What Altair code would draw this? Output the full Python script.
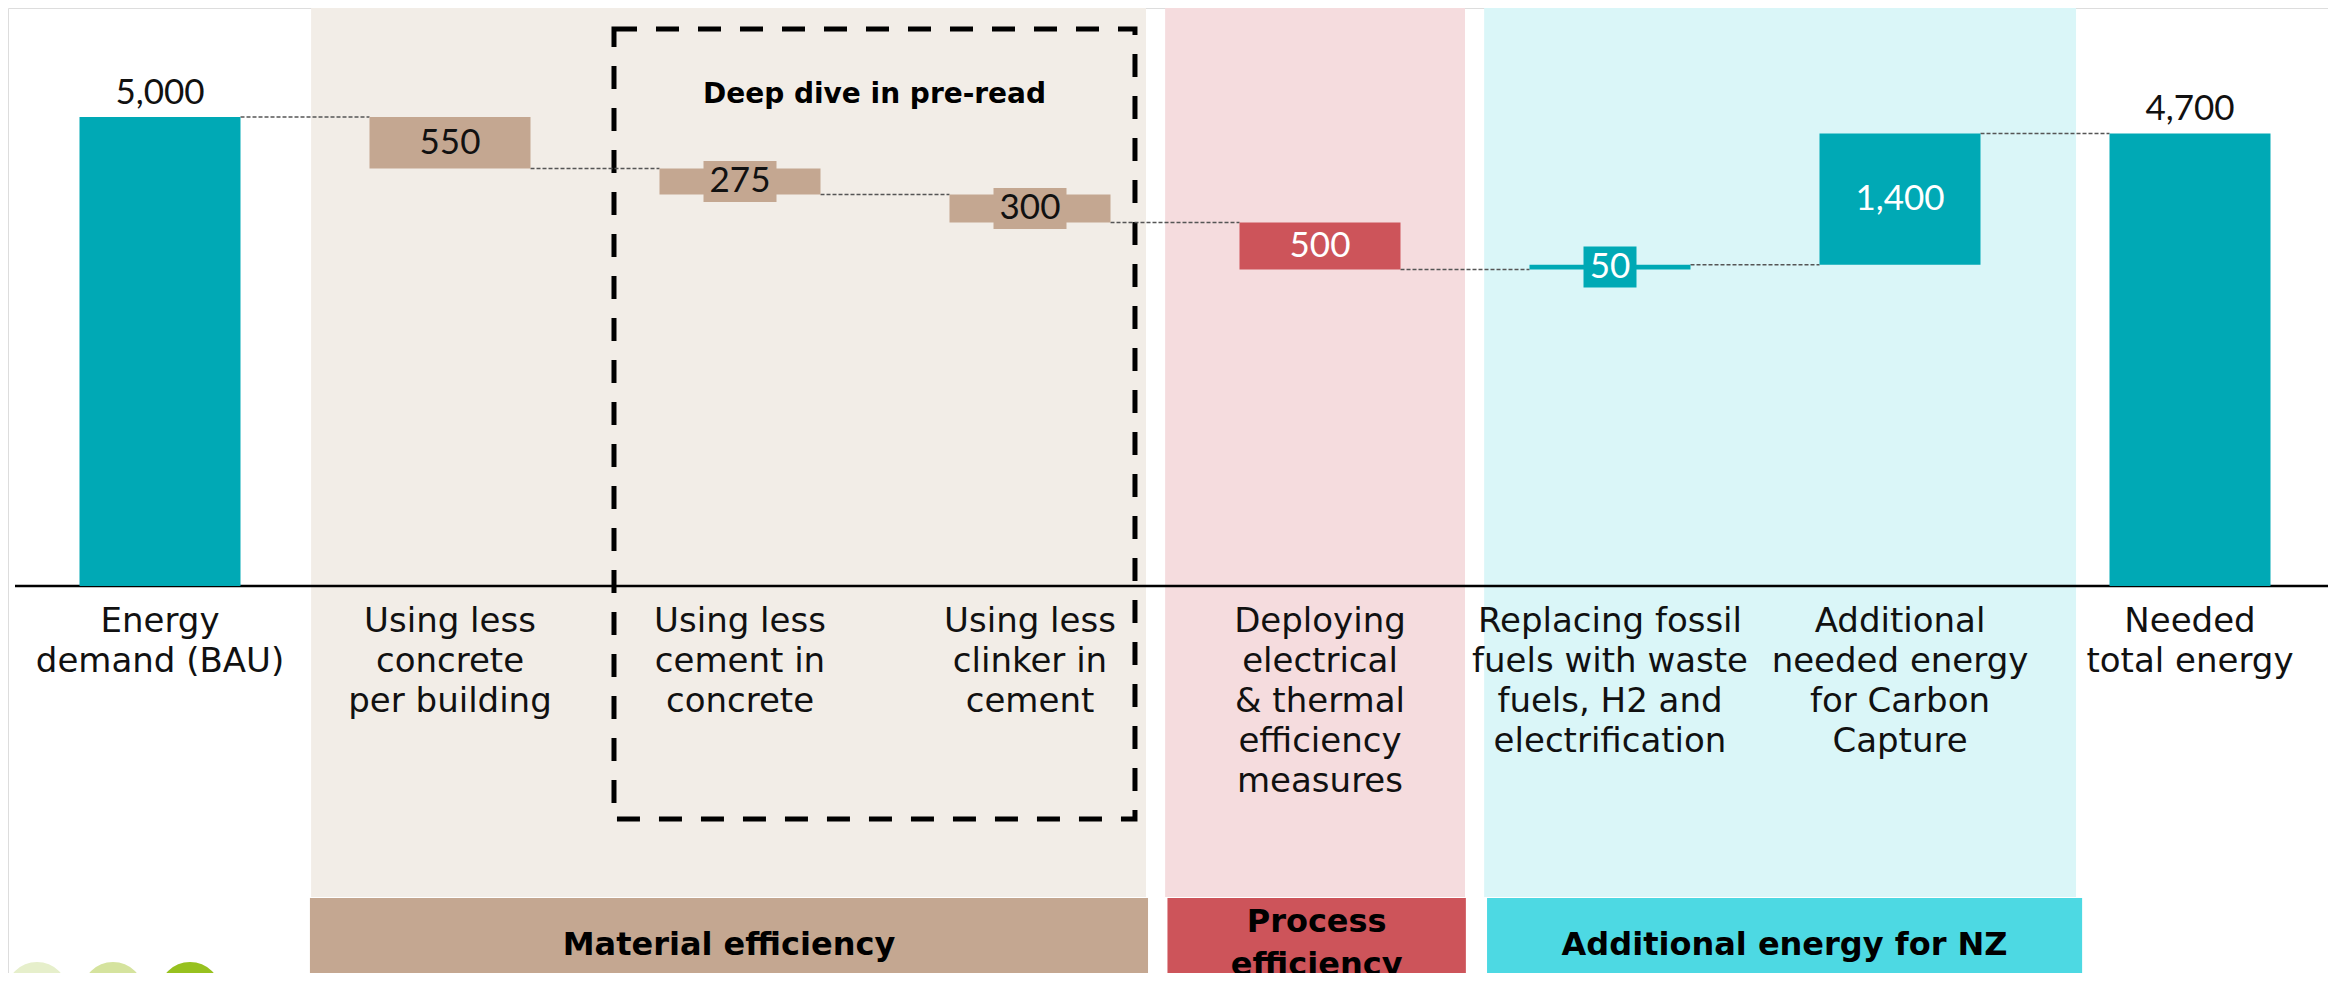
import altair as alt
import pandas as pd

# ---------------- data ----------------
categories = [
    "Energy\ndemand (BAU)",
    "Using less\nconcrete\nper building",
    "Using less\ncement in\nconcrete",
    "Using less\nclinker in\ncement",
    "Deploying\nelectrical\n& thermal\nefficiency\nmeasures",
    "Replacing fossil\nfuels with waste\nfuels, H2 and\nelectrification",
    "Additional\nneeded energy\nfor Carbon\nCapture",
    "Needed\ntotal energy",
]
# start value followed by the steps as drawn
step_values = [5000, -550, -275, -300, -500, 50, 1400]
value_labels = ["5,000", "550", "275", "300", "500", "50", "1,400", "4,700"]
kinds = ["total", "material", "material", "material", "process", "nz", "nz", "total"]

groups = ["Material efficiency", "Process\nefficiency", "Additional energy for NZ"]
group_kinds = ["material", "process", "nz"]

FONT = "DejaVu Sans"
NUM_FONT = "Lato"
bar_color = {"total": "#00A9B5", "material": "#C4A791", "process": "#CD545A", "nz": "#00A9B5"}
label_color = {"total": "#111111", "material": "#111111", "process": "#FFFFFF", "nz": "#FFFFFF"}
panel_color = {"material": "#F2EDE7", "process": "#F5DCDE", "nz": "#DAF6F8"}
band_color = {"material": "#C4A791", "process": "#CD545A", "nz": "#4DD9E3"}

STEP_PX = 290.0
PX_PER_UNIT = 469 / 5000
HALF = 0.2776

# ---------------- build tables ----------------
rows = []
level = 0
for i, cat in enumerate(categories):
    k = kinds[i]
    if i == 0:
        start, end = 0, step_values[0]
    elif i == len(categories) - 1:
        start, end = 0, level
    else:
        start, end = level, level + step_values[i]
    level = end
    rows.append(dict(i=i, cat=cat, start=start, end=end, kind=k,
                     x=i + 0.5 - HALF, x2=i + 0.5 + HALF, xc=i + 0.5,
                     color=bar_color[k], label=value_labels[i], lcolor=label_color[k],
                     mid=(start + end) / 2))
bars = pd.DataFrame(rows)

conn = pd.DataFrame([
    dict(x=bars.x2[j], x2=bars.x[j + 1], y=bars.end[j])
    for j in range(len(bars) - 1)
])

inner = bars[bars.kind != "total"].copy()
small = inner[(inner.end - inner.start).abs() * PX_PER_UNIT < 45].copy()
small["w"] = (small.label.str.len() * 20 + 13) / STEP_PX
small["bx"] = small.xc - small.w / 2
small["bx2"] = small.xc + small.w / 2
small["by"] = small.mid - 20.5 / PX_PER_UNIT
small["by2"] = small.mid + 20.5 / PX_PER_UNIT
totals = bars[bars.kind == "total"].copy()

spans = {"material": (1.021, 3.90), "process": (3.966, 5.0), "nz": (5.066, 7.107)}
band_spans = {"material": (1.017, 3.907), "process": (3.974, 5.003), "nz": (5.076, 7.128)}
panels = pd.DataFrame([dict(g=g, k=k, x=spans[k][0], x2=spans[k][1], c=panel_color[k])
                       for g, k in zip(groups, group_kinds)])
bands = pd.DataFrame([dict(g=g, k=k, x=band_spans[k][0], x2=band_spans[k][1], c=band_color[k],
                           xc=(band_spans[k][0] + band_spans[k][1]) / 2)
                      for g, k in zip(groups, group_kinds)])

box = pd.DataFrame([dict(x=2.0655, x2=3.862, xc=(2.0655 + 3.862) / 2, t="Deep dive in pre-read")])
axis_df = pd.DataFrame([dict(x=0.0, x2=8.0, y=0)])
logo = pd.DataFrame(dict(px=[29, 105, 182], c=["#E6EFCB", "#D5E39E", "#97C11F"]))

xs = alt.Scale(domain=[-7 / STEP_PX, 8 - 7 / STEP_PX])
ys = alt.Scale(domain=[-4126, 6162])
X = lambda f: alt.X(f, type="quantitative", scale=xs, axis=None)
Y = lambda f: alt.Y(f, type="quantitative", scale=ys, axis=None)

# ---------------- layers ----------------
panel_l = alt.Chart(panels).mark_rect().encode(
    x=X("x"), x2="x2", y=alt.value(0), y2=alt.value(889),
    color=alt.Color("c:N", scale=None))

band_l = alt.Chart(bands).mark_rect().encode(
    x=X("x"), x2="x2", y=alt.value(890), y2=alt.value(975),
    color=alt.Color("c:N", scale=None))

band_text_one = alt.Chart(bands[bands.k != "process"]).mark_text(
    font=FONT, fontSize=32, fontWeight="bold", color="#000000",
    baseline="alphabetic", align="center").encode(
    x=X("xc"), y=alt.value(947), text="g:N")

band_text_two = alt.Chart(bands[bands.k == "process"]).mark_text(
    font=FONT, fontSize=32, fontWeight="bold", color="#000000",
    lineBreak="\n", lineHeight=43, baseline="alphabetic", align="center").encode(
    x=X("xc"), y=alt.value(924), text="g:N")

box_l = alt.Chart(box).mark_rect(
    fill=None, stroke="#000000", strokeWidth=5, strokeDash=[23, 19]).encode(
    x=X("x"), x2="x2", y=alt.value(21), y2=alt.value(811))

box_text = alt.Chart(box).mark_text(
    font=FONT, fontSize=28, fontWeight="bold", color="#000000", baseline="alphabetic").encode(
    x=X("xc"), y=alt.value(95), text="t:N")

axis_l = alt.Chart(axis_df).mark_rule(color="#000000", strokeWidth=2.5).encode(
    x=X("x"), x2="x2", y=Y("y"))

conn_l = alt.Chart(conn).mark_rule(color="#555555", strokeWidth=1.5, strokeDash=[4, 2]).encode(
    x=X("x"), x2="x2", y=Y("y"))

bar_l = alt.Chart(bars).mark_rect().encode(
    x=X("x"), x2="x2", y=Y("start"), y2="end",
    color=alt.Color("color:N", scale=None))

sbox_l = alt.Chart(small).mark_rect().encode(
    x=X("bx"), x2="bx2", y=Y("by"), y2="by2",
    color=alt.Color("color:N", scale=None))

inner_text = alt.Chart(inner).mark_text(
    font=NUM_FONT, fontSize=35, baseline="middle", align="center").encode(
    x=X("xc"), y=Y("mid"), text="label:N",
    color=alt.Color("lcolor:N", scale=None))

total_text = alt.Chart(totals).mark_text(
    font=NUM_FONT, fontSize=35, baseline="alphabetic", align="center", dy=-13, color="#111111").encode(
    x=X("xc"), y=Y("end"), text="label:N")

cat_text = alt.Chart(bars).mark_text(
    font=FONT, fontSize=34, lineBreak="\n", lineHeight=40, baseline="alphabetic",
    align="center", color="#111111").encode(
    x=X("xc"), y=alt.value(624), text="cat:N")

logo_l = alt.Chart(logo).mark_circle(size=3850, opacity=1).encode(
    x=alt.X("px:Q", scale=None, axis=None), y=alt.value(985),
    color=alt.Color("c:N", scale=None))

chart = alt.layer(
    panel_l, band_l, band_text_one, band_text_two, box_l, box_text, axis_l, conn_l, bar_l,
    sbox_l, inner_text, total_text, cat_text, logo_l
).properties(
    width=2320, height=965, padding=0,
    autosize=alt.AutoSizeParams(type="none"),
).configure_view(stroke=None).configure(background="white")

chart.save("out.html", embed_options={"renderer": "svg", "actions": False})
